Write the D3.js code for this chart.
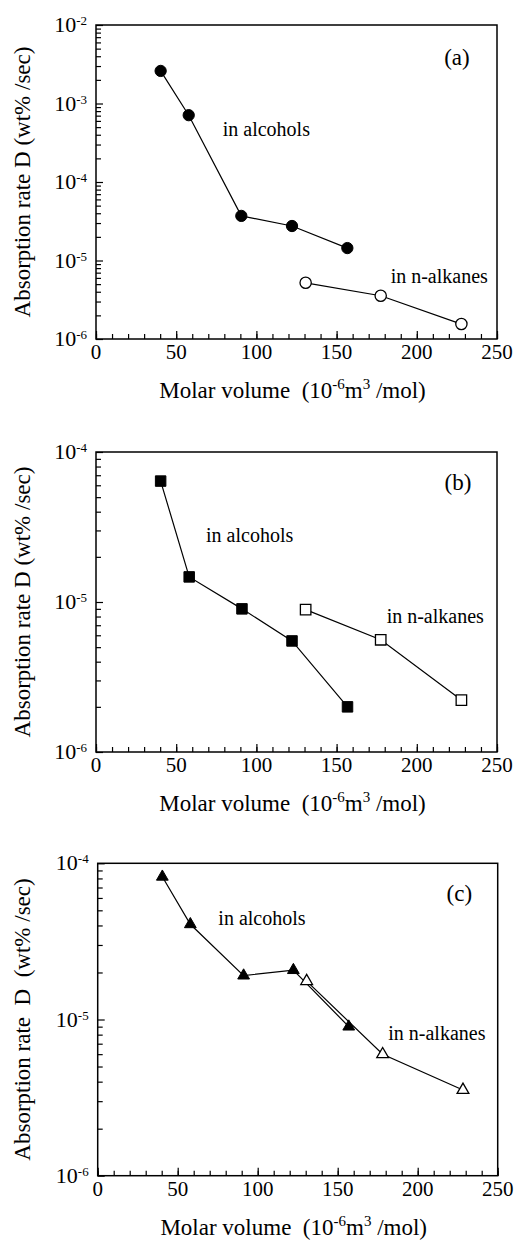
<!DOCTYPE html>
<html>
<head>
<meta charset="utf-8">
<script src="https://cdn.jsdelivr.net/npm/d3@7"></script>
<style>
  body { margin: 0; background: #fff; }
  svg text { font-family: 'Liberation Serif', 'Times New Roman', Times, 'DejaVu Serif', serif; fill: #000; }
</style>
</head>
<body>
<script>
// molar volume (10^-6 m3/mol) and absorption rate D (wt%/sec)
const xTicks = [0, 50, 100, 150, 200, 250];

const alcAx = [40.3, 57.8, 90.6, 122.2, 156.7];
const alcAy = [2.6e-3, 7.1e-4, 3.7e-5, 2.75e-5, 1.44e-5];
const alkAx = [130.7, 177.5, 227.8];
const alkAy = [5.2e-6, 3.56e-6, 1.55e-6];

const alcBx = [40.3, 58.1, 91.0, 122.2, 156.8];
const alcBy = [6.4e-5, 1.47e-5, 9.0e-6, 5.5e-6, 2.0e-6];
const alkBx = [130.7, 177.5, 227.8];
const alkBy = [8.9e-6, 5.6e-6, 2.22e-6];

const alcCx = [40.4, 57.9, 91.2, 122.3, 156.9];
const alcCy = [8.2e-5, 4.07e-5, 1.91e-5, 2.07e-5, 9.0e-6];
const alkCx = [130.6, 178.1, 228.3];
const alkCy = [1.76e-5, 5.99e-6, 3.54e-6];

const decadesA = [-6, -5, -4, -3, -2];
const decadesBC = [-6, -5, -4];

const width = 517, height = 1243;
const font = "'Liberation Serif', 'Times New Roman', Times, 'DejaVu Serif', serif";

const svg = d3.select('body')
  .append('svg')
  .attr('width', width)
  .attr('height', height)
  .attr('font-family', font);

const zip = (xs, ys) => xs.map((x, i) => [x, ys[i]]);

const panels = [
  { tag: '(a)', left: 96, right: 497, top: 25, bottom: 339, decades: decadesA,
    alc: zip(alcAx, alcAy), alk: zip(alkAx, alkAy), shape: d3.symbolCircle, size: 100,
    yTitle: 'Absorption rate D (wt% /sec)',
    alcLabel: [79, 3.85e-4], alkLabel: [183.7, 5.2e-6], tagPos: [233, 3.1e-3] },
  { tag: '(b)', left: 96, right: 497, top: 452, bottom: 752, decades: decadesBC,
    alc: zip(alcBx, alcBy), alk: zip(alkBx, alkBy), shape: d3.symbolSquare, size: 110,
    yTitle: 'Absorption rate D (wt% /sec)',
    alcLabel: [68.6, 2.5e-5], alkLabel: [181.2, 7.2e-6], tagPos: [234, 5.6e-5] },
  { tag: '(c)', left: 97.7, right: 497.7, top: 863.3, bottom: 1175.7, decades: decadesBC,
    alc: zip(alcCx, alcCy), alk: zip(alkCx, alkCy), shape: d3.symbolTriangle, size: 60,
    yTitle: 'Absorption rate  D  (wt% /sec)',
    alcLabel: [75.4, 4.03e-5], alkLabel: [181.6, 7.4e-6], tagPos: [234, 5.7e-5] }
];

function supText(sel, base, sup) {
  sel.append('tspan').text(base);
  sel.append('tspan').attr('font-size', 13).attr('dy', -7).text(sup);
}

panels.forEach((p) => {
  const x = d3.scaleLinear().domain([0, 250]).range([p.left, p.right]);
  const y = d3.scaleLog()
    .domain([Math.pow(10, p.decades[0]), Math.pow(10, p.decades[p.decades.length - 1])])
    .range([p.bottom, p.top]);

  const g = svg.append('g');

  // ticks along the bottom (inward)
  g.append('g')
    .attr('transform', 'translate(0,' + p.bottom + ')')
    .call(d3.axisBottom(x).tickValues(d3.range(0, 251, 10)).tickSizeInner(-5).tickSizeOuter(0).tickFormat(''))
    .call((a) => a.select('.domain').remove());
  g.append('g')
    .attr('transform', 'translate(0,' + p.bottom + ')')
    .call(d3.axisBottom(x).tickValues(xTicks).tickSizeInner(-8).tickSizeOuter(0).tickFormat(''))
    .call((a) => a.select('.domain').remove());

  // log ticks on the left (inward)
  const minors = [];
  for (let i = 0; i < p.decades.length - 1; i++) {
    for (let k = 2; k <= 9; k++) minors.push(k * Math.pow(10, p.decades[i]));
  }
  g.append('g')
    .attr('transform', 'translate(' + p.left + ',0)')
    .call(d3.axisLeft(y).tickValues(minors).tickSizeInner(-5).tickSizeOuter(0).tickFormat(''))
    .call((a) => a.select('.domain').remove());
  g.append('g')
    .attr('transform', 'translate(' + p.left + ',0)')
    .call(d3.axisLeft(y).tickValues(p.decades.map((d) => Math.pow(10, d))).tickSizeInner(-7).tickSizeOuter(0).tickFormat(''))
    .call((a) => a.select('.domain').remove());

  g.selectAll('line').attr('stroke', '#000').attr('stroke-width', 1.2);
  g.selectAll('.tick text').remove();

  // frame
  g.append('rect')
    .attr('x', p.left).attr('y', p.top)
    .attr('width', p.right - p.left).attr('height', p.bottom - p.top)
    .attr('fill', 'none').attr('stroke', '#000').attr('stroke-width', 1.5);

  // x tick labels
  g.selectAll('.xlab')
    .data(xTicks)
    .enter()
    .append('text')
    .attr('x', (d) => x(d))
    .attr('y', p.bottom + 20)
    .attr('text-anchor', 'middle')
    .attr('font-size', 21)
    .text((d) => d);

  // y tick labels 10^n
  p.decades.forEach((d) => {
    const t = g.append('text')
      .attr('x', p.left - 9)
      .attr('y', y(Math.pow(10, d)) + 7)
      .attr('text-anchor', 'end')
      .attr('font-size', 22);
    supText(t, '10', String(d));
  });

  // axis titles
  const xt = g.append('text')
    .attr('x', (p.left + p.right) / 2 - 4)
    .attr('y', p.bottom + 59)
    .attr('text-anchor', 'middle')
    .attr('font-size', 23)
    .style('white-space', 'pre');
  xt.append('tspan').text('Molar volume  (10');
  xt.append('tspan').attr('font-size', 15).attr('dy', -9).text('-6');
  xt.append('tspan').attr('dy', 9).text('m');
  xt.append('tspan').attr('font-size', 15).attr('dy', -9).text('3');
  xt.append('tspan').attr('dy', 9).text(' /mol)');

  g.append('text')
    .attr('transform', 'translate(30,' + ((p.top + p.bottom) / 2) + ') rotate(-90)')
    .attr('text-anchor', 'middle')
    .attr('font-size', 23)
    .style('white-space', 'pre')
    .text(p.yTitle);

  // series lines
  const line = d3.line().x((d) => x(d[0])).y((d) => y(d[1]));
  [p.alc, p.alk].forEach((s) => {
    g.append('path')
      .datum(s)
      .attr('d', line)
      .attr('fill', 'none')
      .attr('stroke', '#000')
      .attr('stroke-width', 1.2);
  });

  // markers: open for n-alkanes, filled for alcohols
  const sym = d3.symbol().type(p.shape).size(p.size);
  g.selectAll('.alk')
    .data(p.alk)
    .enter()
    .append('path')
    .attr('d', sym)
    .attr('transform', (d) => 'translate(' + x(d[0]) + ',' + y(d[1]) + ')')
    .attr('fill', '#fff')
    .attr('stroke', '#000')
    .attr('stroke-width', 1.3);
  g.selectAll('.alc')
    .data(p.alc)
    .enter()
    .append('path')
    .attr('d', sym)
    .attr('transform', (d) => 'translate(' + x(d[0]) + ',' + y(d[1]) + ')')
    .attr('fill', '#000')
    .attr('stroke', '#000')
    .attr('stroke-width', 1);

  // annotations
  g.append('text')
    .attr('x', x(p.alcLabel[0])).attr('y', y(p.alcLabel[1]))
    .attr('font-size', 20)
    .text('in alcohols');
  g.append('text')
    .attr('x', x(p.alkLabel[0])).attr('y', y(p.alkLabel[1]))
    .attr('font-size', 20)
    .text('in n-alkanes');
  g.append('text')
    .attr('x', x(p.tagPos[0])).attr('y', y(p.tagPos[1]))
    .attr('text-anchor', 'end')
    .attr('font-size', 23)
    .text(p.tag);
});
</script>
</body>
</html>
